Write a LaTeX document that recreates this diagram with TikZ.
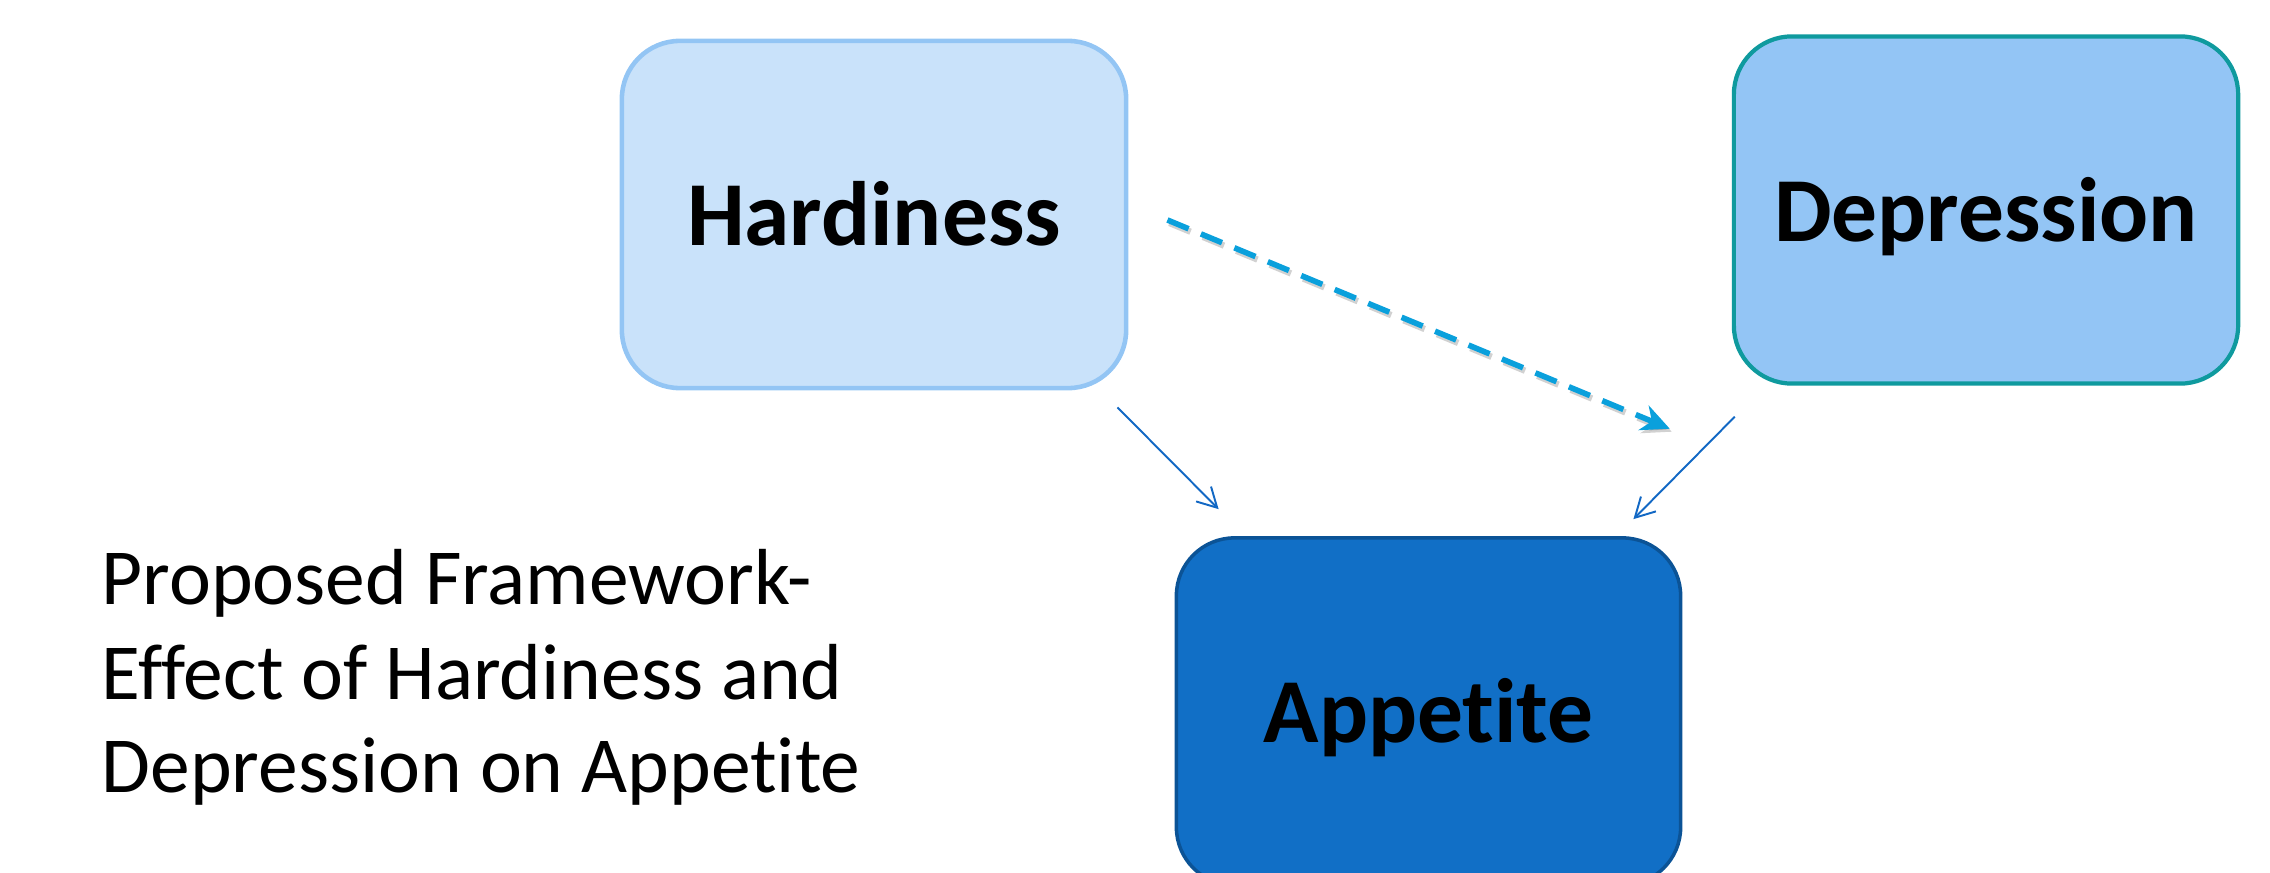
\documentclass[tikz,border=0pt]{standalone}
\usepackage{fontspec}
\setmainfont{Carlito}[RawFeature={-liga;-clig;-dlig;-rlig}]
\usetikzlibrary{arrows.meta,calc}
\definecolor{hfill}{HTML}{C9E2FA}
\definecolor{hdraw}{HTML}{93C5F4}
\definecolor{dfill}{HTML}{93C5F5}
\definecolor{ddraw}{HTML}{0F9A9E}
\definecolor{afill}{HTML}{116FC6}
\definecolor{adraw}{HTML}{0B5396}
\definecolor{dashcol}{HTML}{0AA0DC}
\definecolor{solidcol}{HTML}{1268C4}
\tikzset{
  varbox/.style={rounded corners=0.58cm, minimum width=5.04cm, minimum height=3.47cm,
    inner sep=0pt, text height=0.62cm, text depth=0cm,
    font=\fontsize{26}{31}\selectfont\bfseries, text=black},
  captext/.style={anchor=base west, inner sep=0pt, font=\fontsize{22.6}{27}\selectfont},
  solidarrow/.style={draw=solidcol, line width=0.55pt, -{Straight Barb[length=5.5pt,width=6pt]}},
  dasharrow/.style={draw=dashcol, line width=1.6pt, dash pattern=on 6.5pt off 3.8pt,
    -{Stealth[length=8pt,width=7.5pt,inset=2.5pt]}},
  dashshadow/.style={draw=black, opacity=0.18, line width=1.8pt, dash pattern=on 6.5pt off 3.8pt,
    -{Stealth[length=8pt,width=7.5pt,inset=2.5pt]}}
}
\begin{document}
\begin{tikzpicture}[x=0.01cm,y=-0.01cm]
\useasboundingbox (0,0) rectangle (2270,873);
\begin{scope}
\clip (0,0) rectangle (2270,873);
\node[varbox, fill=hfill, draw=hdraw, line width=1.3pt] (h) at (874,214.5) {Hardiness};
\node[varbox, fill=dfill, draw=ddraw, line width=1.2pt] (d) at (1986,210) {Depression};
\node[varbox, fill=afill, draw=adraw, line width=1.0pt] (a) at (1428.5,711.5) {Appetite};
\end{scope}
\coordinate (ds) at ($(h.east)+(39,5.5)$);
\coordinate (de) at ($(d.south west)+(-62,43)$);
\coordinate (s1) at ($(h.south east)+(-11,17)$);
\coordinate (e1) at ($(a.north west)+(44,-27)$);
\coordinate (s2) at ($(d.south west)+(3,31)$);
\coordinate (e2) at ($(a.north east)+(-49,-17)$);
\draw[dashshadow] ($(ds)+(2,3)$) -- ($(de)+(2,3)$);
\draw[dasharrow] (ds) -- (de);
\draw[solidarrow] (s1) -- (e1);
\draw[solidarrow] (s2) -- (e2);
\node[captext] (t1) at (101,604) {Proposed Framework-};
\node[captext] (t2) at (101,699) {Effect of Hardiness and};
\node[captext] (t3) at (101,792) {Depression on Appetite};
\end{tikzpicture}
\end{document}
